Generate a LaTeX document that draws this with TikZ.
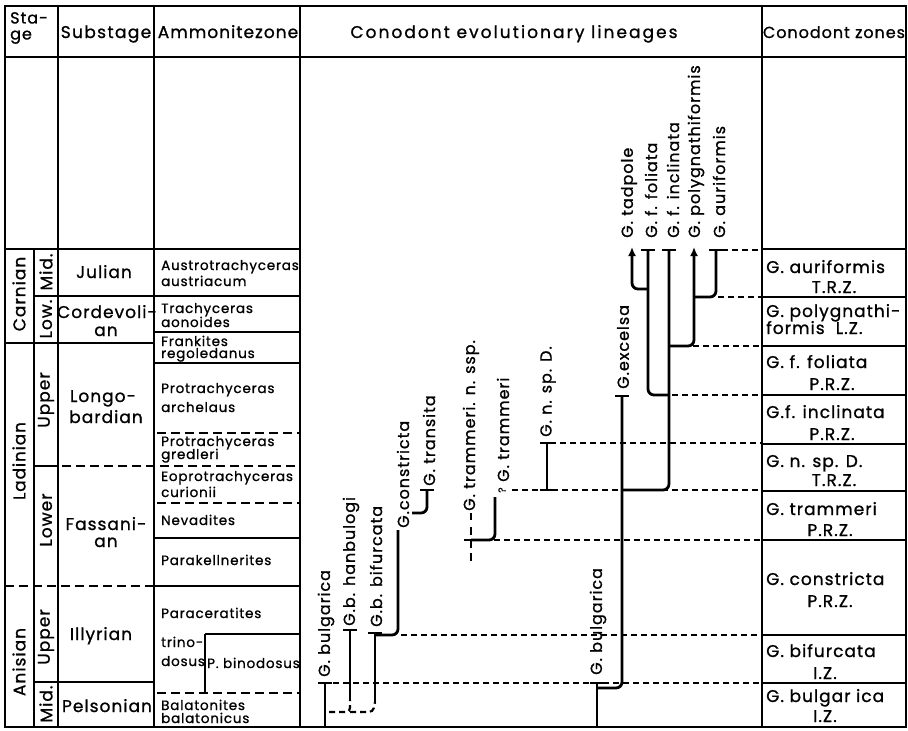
\documentclass[tikz,border=0pt]{standalone}
\usepackage{fontspec}
\setmainfont{Poppins}[LetterSpace=6,FakeBold=1]
\usetikzlibrary{arrows.meta}
\newcommand\fhdr{\fontsize{17}{18}\selectfont}
\newcommand\fsub{\fontsize{17}{18}\selectfont}
\newcommand\fstg{\fontsize{17}{18}\selectfont}
\newcommand\famm{\fontsize{13.5}{14}\selectfont}
\newcommand\fzon{\fontsize{17}{18}\selectfont}
\newcommand\flab{\fontsize{16}{17}\selectfont}
\newcommand\tcap[2]{\draw[tbar] ({#1-7},#2) -- ({#1+7},#2);}
\begin{document}
\begin{tikzpicture}[x=1pt,y=-1pt,
  frame/.style={line width=2pt},
  grid/.style={line width=1.3pt},
  dgrid/.style={line width=1.3pt,dash pattern=on 9pt off 5pt},
  zdash/.style={line width=1.1pt,dash pattern=on 6pt off 4pt},
  lin/.style={line width=2.8pt,rounded corners=6pt},
  dlin/.style={line width=2.2pt,dash pattern=on 6pt off 4pt,rounded corners=4pt},
  tbar/.style={line width=2.8pt},
  arr/.style={-{Latex[length=9pt,width=8pt]}},
  lab/.style={rotate=90,anchor=west,inner sep=0pt,font=\flab},
  hdr/.style={anchor=base,inner sep=0pt,font=\fhdr},
  sub/.style={anchor=base,inner sep=0pt,font=\fsub},
  stg/.style={rotate=90,anchor=center,inner sep=0pt,font=\fstg},
  amm/.style={anchor=base west,inner sep=0pt,font=\famm},
  zon/.style={anchor=base west,inner sep=0pt,font=\fzon},
  zonc/.style={anchor=base,inner sep=0pt,font=\fzon}
]
\useasboundingbox (0,0) rectangle (908,731);
% ---------------- frame and grid
\draw[frame] (5,6) rectangle (906,727);
\draw[grid] (5,57) -- (906,57);
\foreach \x in {58,154,300,762} \draw[grid] (\x,6) -- (\x,727);
\draw[grid] (34,249) -- (34,727);
\draw[grid] (5,249) -- (300,249);
\draw[grid] (762,249) -- (906,249);
% stage / substage columns
\draw[grid] (34,296) -- (300,296);
\draw[grid] (5,343) -- (154,343);
\draw[grid] (34,466) -- (58,466);
\draw[dgrid] (62,466) -- (300,466);
\draw[dgrid] (5,586) -- (154,586);
\draw[grid] (34,682) -- (154,682);
% ammonite zones
\draw[grid] (154,332) -- (300,332);
\draw[grid] (154,363) -- (300,363);
\draw[dgrid] (157,433) -- (300,433);
\draw[dgrid] (157,503) -- (300,503);
\draw[grid] (154,538) -- (300,538);
\draw[grid] (154,586) -- (300,586);
\draw[grid] (205,634) -- (300,634);
\draw[grid] (205,634) -- (205,693);
\draw[dgrid] (157,693) -- (300,693);
% conodont zones
\foreach \y in {297,346,395,444,491,540,635,683} \draw[grid] (762,\y) -- (906,\y);
% dashed correlation lines
\draw[zdash] (722,250) -- (762,250);
\draw[zdash] (718,297) -- (762,297);
\draw[zdash] (693,346) -- (762,346);
\draw[zdash] (672,395) -- (762,395);
\draw[zdash] (550,443) -- (762,443);
\draw[zdash] (512,490) -- (762,490);
\draw[zdash] (494,540) -- (762,540);
\draw[zdash] (401,635) -- (762,635);
\draw[zdash] (333,683) -- (762,683);
% ---------------- header texts
\node[anchor=north west,inner sep=0pt,align=left,font=\fontsize{16}{16}\selectfont] (hs) at (10,12) {Sta-\\ge};
\node[hdr] (hsub) at (106,38) {\addfontfeature{LetterSpace=8}Substage};
\node[hdr] (hamm) at (228,38) {Ammonitezone};
\node[hdr] (hlin) at (514,38) {\addfontfeature{LetterSpace=12}Conodont evolutionary lineages};
\node[hdr,font=\fontsize{16}{18}\selectfont] (hzon) at (834,38) {Conodont zones};
% ---------------- stages
\node[stg] (carn) at (19,294) {Carnian};
\node[stg] (ladi) at (19,461) {\addfontfeature{LetterSpace=5}Ladinian};
\node[stg] (anis) at (19,662) {Anisian};
\node[stg] (s1) at (46,272) {Mid.};
\node[stg] (s2) at (46,319) {Low.};
\node[stg] (s3) at (46,400) {Upper};
\node[stg] (s4) at (46,520) {Lower};
\node[stg] (s5) at (46,637) {Upper};
\node[stg] (s6) at (46,704) {Mid.};
% ---------------- substages
\node[sub] (jul) at (104,278) {Julian};
\node[sub] (cor1) at (107,318) {Cordevoli-};
\node[sub] (cor2) at (106,336) {an};
\node[sub] (lon1) at (103,402) {Longo-};
\node[sub] (lon2) at (106,423) {bardian};
\node[sub] (fas1) at (106,530) {Fassani-};
\node[sub] (fas2) at (106,547) {an};
\node[sub] (ill) at (101,640) {Illyrian};
\node[sub] (pel) at (107,712) {Pelsonian};
% ---------------- ammonite zones
\node[amm] (a1) at (161,270) {Austrotrachyceras};
\node[amm] (a2) at (161,286) {austriacum};
\node[amm] (a3) at (161,313) {Trachyceras};
\node[amm] (a4) at (161,327) {aonoides};
\node[amm] (a5) at (161,346) {Frankites};
\node[amm] (a6) at (161,358) {regoledanus};
\node[amm] (a7) at (161,393) {Protrachyceras};
\node[amm] (a8) at (161,412) {archelaus};
\node[amm] (a9) at (161,446) {Protrachyceras};
\node[amm] (a10) at (161,459) {gredleri};
\node[amm] (a11) at (161,481) {Eoprotrachyceras};
\node[amm] (a12) at (161,497) {curionii};
\node[amm] (a13) at (161,525) {Nevadites};
\node[amm] (a14) at (161,565) {Parakellnerites};
\node[amm] (a15) at (161,618) {Paraceratites};
\node[amm] (a16) at (161,647) {trino-};
\node[amm] (a17) at (161,666) {dosus};
\node[amm] (a18) at (207,668) {P. binodosus};
\node[amm] (a19) at (161,710) {Balatonites};
\node[amm] (a20) at (161,723) {balatonicus};
% ---------------- conodont zones
\node[zon] (z1) at (766,273) {G. auriformis};
\node[zonc] (z1b) at (834,293) {T.R.Z.};
\node[zon] (z2) at (766,317) {G. polygnathi-};
\node[zon] (z2b) at (766,334) {formis\ \ L.Z.};
\node[zon] (z3) at (766,368) {G. f. foliata};
\node[zonc] (z3b) at (832,390) {P.R.Z.};
\node[zon] (z4) at (766,418) {G.f. inclinata};
\node[zonc] (z4b) at (832,440) {P.R.Z.};
\node[zon] (z5) at (766,467) {G. n. sp. D.};
\node[zonc] (z5b) at (834,486) {T.R.Z.};
\node[zon] (z6) at (766,515) {G. trammeri};
\node[zonc] (z6b) at (830,536) {P.R.Z.};
\node[zon] (z7) at (766,585) {G. constricta};
\node[zonc] (z7b) at (830,607) {P.R.Z.};
\node[zon] (z8) at (766,657) {G. bifurcata};
\node[zonc] (z8b) at (825,679) {I.Z.};
\node[zon] (z9) at (766,702) {G. bulgar ica};
\node[zonc] (z9b) at (825,722) {I.Z.};
% ---------------- lineages
% left G. bulgarica group
\draw[lin] (325,727) -- (325,683); \tcap{325}{683}
\draw[lin] (350,700) -- (350,630); \tcap{350}{630}
\draw[lin] (375,702) -- (375,633); \tcap{375}{633}
\draw[dlin] (329,712) -- (350,712) -- (350,700);
\draw[dlin] (350,712) -- (373,712) -- (375,702);
\draw[lin] (375,635) -- (398,635) -- (398,530);
% G. transita
\draw[lin] (427,490) -- (427,513) -- (412,513); \tcap{427}{490}
% G. trammeri
\draw[line width=2.4pt] (471,513) -- (471,520);
\draw[line width=2.4pt,dash pattern=on 8pt off 5pt] (471,527) -- (471,565);
\tcap{471}{540}
\draw[lin] (471,540) -- (495,540) -- (495,497);
% G. n. sp. D.
\draw[lin] (547,443) -- (547,490); \tcap{547}{443} \tcap{547}{490}
% right G. bulgarica -> excelsa
\draw[lin] (597,727) -- (597,683); \tcap{597}{683}
\draw[lin] (597,688) -- (622,688) -- (622,396); \tcap{622}{396}
\draw[lin] (622,490) -- (669,490) -- (669,250); \tcap{669}{250}
\draw[lin] (669,395) -- (648,395) -- (648,250); \tcap{648}{250}
\draw[lin,arr] (648,289) -- (632,289) -- (632,247);
\draw[lin,arr] (669,346) -- (694,346) -- (694,247);
\draw[lin] (694,297) -- (716,297) -- (716,250); \tcap{716}{250}
% ---------------- lineage labels
\node[lab] (l1) at (326,677) {G. bulgarica};
\node[lab] (l2) at (351,626) {G.b. hanbulogi};
\node[lab] (l3) at (376,627) {G.b. bifurcata};
\node[lab] (l4) at (403,528) {G.constricta};
\node[lab] (l5) at (429,486) {G. transita};
\node[lab] (l6) at (471,511) {G. trammeri. n. ssp.};
\node[rotate=90,inner sep=0pt,font=\fontsize{10}{10}\selectfont] (l7q) at (502,490) {?};
\node[lab] (l7) at (503,482) {G. trammeri};
\node[lab] (l8) at (548,437) {G. n. sp. D.};
\node[lab] (l9) at (598,675) {G. bulgarica};
\node[lab] (l10) at (623,389) {G.excelsa};
\node[lab] (l11) at (629,238) {G. tadpole};
\node[lab] (l12) at (651,238) {G. f. foliata};
\node[lab] (l13) at (673,238) {G. f. inclinata};
\node[lab] (l14) at (696,238) {G. polygnathiformis};
\node[lab] (l15) at (719,238) {G. auriformis};
\end{tikzpicture}
\end{document}
